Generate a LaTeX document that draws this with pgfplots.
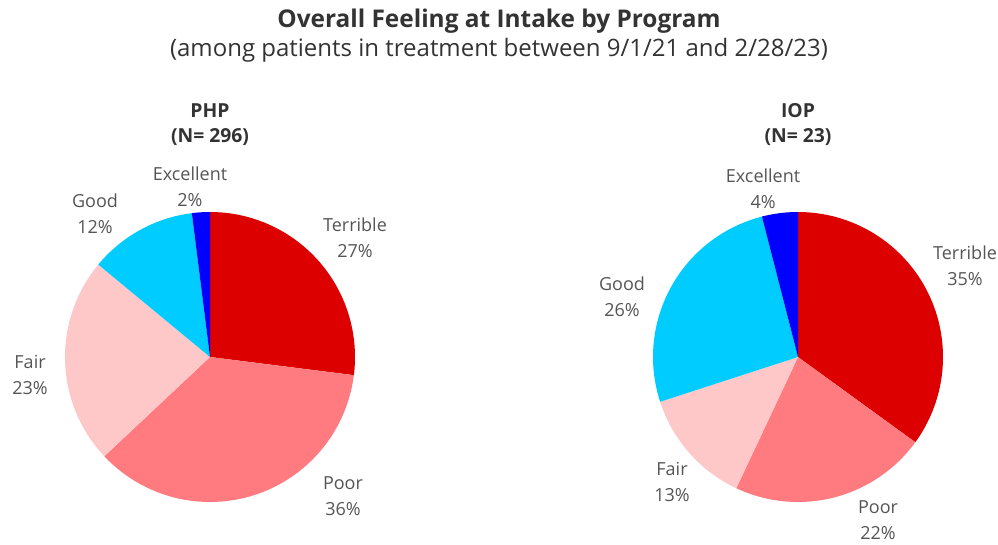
\documentclass[border=0pt]{standalone}
\usepackage{fontspec}
\setmainfont{Open Sans}
\usepackage{pgfplots}
\pgfplotsset{compat=1.18}
\definecolor{cTerrible}{HTML}{DD0000}
\definecolor{cPoor}{HTML}{FF7B7F}
\definecolor{cFair}{HTML}{FFC8C8}
\definecolor{cGood}{HTML}{00CCFF}
\definecolor{cExcellent}{HTML}{0000FF}
\definecolor{txtDark}{HTML}{333333}
\definecolor{txtLab}{HTML}{555555}

% one wedge: cumulative percent from #1 to #2, clockwise from 12 o'clock
\newcommand{\slice}[3]{%
  \addplot[fill=#3, draw=none, domain={90-3.6*#2}:{90-3.6*#1}, samples=80]
    ({cos(x)},{sin(x)}) -- (0,0) -- cycle;}
\newcommand{\lab}[3]{\node[txtLab, align=center, font=\fontsize{13.5}{19.5}\selectfont] at (axis cs:#1,#2) {#3};}
\newcommand{\head}[2]{%
  \node[txtDark, anchor=base, font=\bfseries\fontsize{14.5}{19}\selectfont] at (axis cs:0,1.655) {#1};
  \node[txtDark, anchor=base, font=\bfseries\fontsize{14.5}{19}\selectfont] at (axis cs:0,1.476) {#2};}

\pgfplotsset{pie/.style={x=108.75pt, y=108.75pt, xmin=-1, xmax=1, ymin=-1, ymax=1,
  hide axis, clip=false, anchor=center}}

\begin{document}
\begin{tikzpicture}
\path[use as bounding box] (0,0) rectangle (748.5pt,408pt);

\node[txtDark, anchor=base, font=\bfseries\fontsize{18.3}{22}\selectfont] at (374.25pt,387pt) {Overall Feeling at Intake by Program};
\node[txtDark, anchor=base, font=\fontsize{18}{22}\selectfont] at (374.25pt,366pt) {(among patients in treatment between 9/1/21 and 2/28/23)};

% PHP (N = 296)
\begin{axis}[pie, at={(157.5pt,140.25pt)}]
\slice{0}{27}{cTerrible}
\slice{27}{63}{cPoor}
\slice{63}{86}{cFair}
\slice{86}{98}{cGood}
\slice{98}{100}{cExcellent}
\head{PHP}{(N= 296)}
\lab{-0.138}{1.172}{Excellent\\2\%}
\lab{-0.793}{0.986}{Good\\12\%}
\lab{1.0}{0.821}{Terrible\\27\%}
\lab{-1.241}{-0.124}{Fair\\23\%}
\lab{0.917}{-0.959}{Poor\\36\%}
\end{axis}

% IOP (N = 23)
\begin{axis}[pie, at={(598.5pt,140.25pt)}]
\slice{0}{35}{cTerrible}
\slice{35}{57}{cPoor}
\slice{57}{70}{cFair}
\slice{70}{96}{cGood}
\slice{96}{100}{cExcellent}
\head{IOP}{(N= 23)}
\lab{-0.241}{1.159}{Excellent\\4\%}
\lab{1.152}{0.628}{Terrible\\35\%}
\lab{-1.214}{0.414}{Good\\26\%}
\lab{-0.869}{-0.862}{Fair\\13\%}
\lab{0.552}{-1.128}{Poor\\22\%}
\end{axis}
\end{tikzpicture}
\end{document}
